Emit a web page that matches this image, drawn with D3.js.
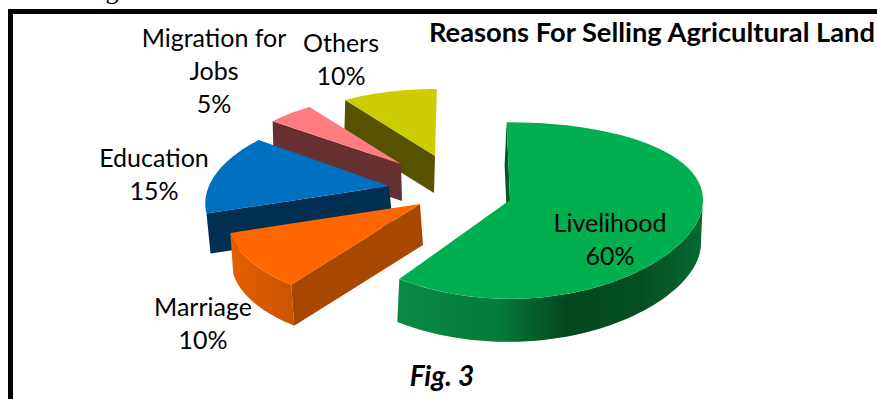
<!DOCTYPE html>
<html>
<head>
<meta charset="utf-8">
<script src="https://cdn.jsdelivr.net/npm/d3@7"></script>
<style>
  html, body { margin: 0; padding: 0; background: #fff; overflow: hidden; }
  text { font-family: Lato, "Noto Sans", sans-serif; fill: #000; }
</style>
</head>
<body>
<svg id="chart" width="877" height="399"></svg>
<script>
// Reasons for selling agricultural land, share in percent
const categories = ["Livelihood", "Marriage", "Education", "Migration for Jobs", "Others"];
const shares = [60, 10, 15, 5, 10];

// Fill colours
const topColors = ["#00B050", "#FF6600", "#0070C0", "#FF7C80", "#CCCC00"];
const cutColors = ["#03552a", "#A84800", "#002F52", "#663033", "#565200"];

// Exploded slice geometry: apex, radii, perspective strength, rotation and wall height
const apexX = [510, 420, 389, 401, 435];
const apexY = [200, 204, 186, 164, 156];
const radiusX = [193, 189, 180, 168, 168];
const radiusY = [87, 90, 85, 79, 77];
const perspective = [0, 0.17, 0.2, 0.1, 0.1];
const tilt = [0.12, 0.12, 0.15, 0.15, 0.15];
const rotationDeg = [-1, 0, 0, 0, 0.7];
const depth = [43, 41, 40, 37, 37];
const wallLean = [-2, 3, 4, 1, -1];

// Multi-line data labels
const labelLines = [["Livelihood", "60%"], ["Marriage", "10%"], ["Education", "15%"], ["Migration for", "Jobs", "5%"], ["Others", "10%"]];
const labelX = [610, 203, 154, 214, 341];
const labelY = [232, 316, 167, 47, 52];
const labelStep = 33;

const svg = d3.select("#chart");
const defs = svg.append("defs");

// Horizontal shading along the curved rims
const rimStops = [
  [[0, "#078B43"], [0.33, "#067A38"], [0.55, "#03471F"], [0.8, "#044F22"], [1, "#056A30"]],
  [[0, "#E56000"], [1, "#C85400"]]
];
const rimExtent = [[398, 703], [232, 296]];
rimStops.forEach((stops, k) => {
  const g = defs.append("linearGradient")
    .attr("id", "rim" + k)
    .attr("gradientUnits", "userSpaceOnUse")
    .attr("x1", rimExtent[k][0]).attr("x2", rimExtent[k][1])
    .attr("y1", 0).attr("y2", 0);
  stops.forEach(s => g.append("stop").attr("offset", s[0]).attr("stop-color", s[1]));
});

const arcs = d3.pie().sort(null).value(d => d)(shares);
const sliceIndex = d3.range(shares.length);

// Project a pie angle (clockwise from north) to the page
function project(i, angle) {
  const t = angle + rotationDeg[i] * Math.PI / 180;
  const u = Math.sin(t), v = -Math.cos(t);
  return [
    apexX[i] + radiusX[i] * u / (1 - perspective[i] * v),
    apexY[i] + radiusY[i] * v / (1 - tilt[i] * v)
  ];
}
const line = d3.line();
const samples = (a0, a1) => d3.range(0, 61).map(k => a0 + (a1 - a0) * k / 60);
const drop = (i, p) => [p[0] + wallLean[i], p[1] + depth[i]];

function topPath(i) {
  const a = arcs[i];
  return line([[apexX[i], apexY[i]], ...samples(a.startAngle, a.endAngle).map(t => project(i, t))]) + "Z";
}
function rimPath(i, a0, a1) {
  const upper = samples(a0, a1).map(t => project(i, t));
  const lower = upper.slice().reverse().map(p => drop(i, p));
  return line([...upper, ...lower]) + "Z";
}
function cutPath(i, angle) {
  const apex = [apexX[i], apexY[i]];
  const p = project(i, angle);
  return line([apex, p, drop(i, p), drop(i, apex)]) + "Z";
}

const plot = svg.append("g");

// Paint back to front so nearer slices overlap the ones behind
[4, 3, 2, 1, 0].forEach(i => {
  const a = arcs[i];
  const g = plot.append("g").attr("class", "slice").datum(categories[i]);
  if (i === 0) {
    g.append("path").attr("d", cutPath(i, a.startAngle)).attr("fill", cutColors[i]);
    g.append("path").attr("d", rimPath(i, Math.PI / 2, a.endAngle)).attr("fill", "url(#rim0)");
  } else if (i === 1) {
    g.append("path").attr("d", rimPath(i, a.startAngle, a.endAngle)).attr("fill", "url(#rim1)");
    g.append("path").attr("d", cutPath(i, a.startAngle)).attr("fill", cutColors[i]);
  } else {
    g.append("path").attr("d", cutPath(i, a.startAngle)).attr("fill", cutColors[i]);
  }
  g.append("path").attr("d", topPath(i)).attr("fill", topColors[i]);
});

// Data labels
sliceIndex.forEach(i => {
  const t = svg.append("text").attr("text-anchor", "middle").attr("font-size", 25);
  labelLines[i].forEach((s, k) => {
    t.append("tspan").attr("x", labelX[i]).attr("y", labelY[i] + k * labelStep).text(s);
  });
});

// Title and figure caption
svg.append("text").attr("x", 875).attr("y", 42).attr("text-anchor", "end")
  .attr("font-size", 27.3).attr("font-weight", 700).text("Reasons For Selling Agricultural Land");
svg.append("text").attr("x", 442).attr("y", 386).attr("text-anchor", "middle")
  .attr("font-size", 28).attr("font-weight", 700).attr("font-style", "italic").text("Fig. 3");

// Descender of the running text above the frame
svg.append("text").attr("x", 112).attr("y", -1).attr("text-anchor", "middle")
  .attr("font-size", 26).style("font-family", "'Liberation Serif', serif").text("g");

// Heavy frame, open at the right and bottom edges
svg.append("path").attr("d", "M10.5,399V11.5H877").attr("fill", "none").attr("stroke", "#000").attr("stroke-width", 5);
</script>
</body>
</html>
